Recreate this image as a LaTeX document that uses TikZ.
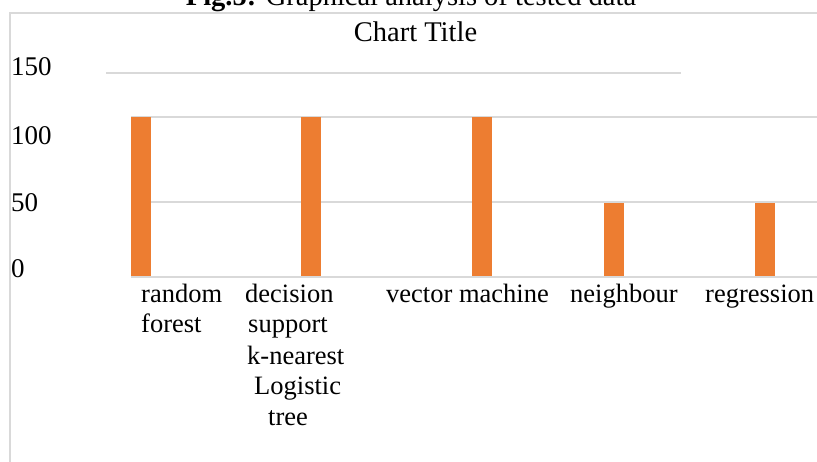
\documentclass[tikz,border=0pt]{standalone}
\usepackage{fontspec}
\setmainfont{Liberation Serif}
\definecolor{barorange}{HTML}{ED7D31}
\definecolor{gridgrey}{HTML}{D9D9D9}
\tikzset{
  gridline/.style = {draw=gridgrey, line width=2pt},% grid and frame
  chartbar/.style = {fill=barorange},
  ylab/.style = {anchor=base west, inner sep=0pt,
    font=\fontsize{27}{30}\selectfont},% value axis
  catlab/.style = {anchor=base west, inner sep=0pt,
    font=\fontsize{26.5}{30}\selectfont},% category axis
  titlelab/.style = {anchor=base, inner sep=0pt,
    font=\fontsize{28.5}{32}\selectfont}
}

\begin{document}
\begin{tikzpicture}[x=1pt,y=-1pt]
\clip (0,0) rectangle (817,462);
\fill[white] (0,0) rectangle (817,462);
% titles
\node [titlelab] (fig) at (411,6) {\textbf{Fig.5:} Graphical analysis of tested data};
\draw [gridline] (10,480) -- (10,13) -- (830,13);
\node [titlelab] (charttitle) at (415.5,42) {Chart Title};
% grid
\draw [gridline] (106,72.7) -- (681,72.7);
\draw [gridline] (131,116.7) -- (830,116.7);
\draw [gridline] (131,202) -- (830,202);
\draw [gridline] (131,277.5) -- (830,277.5);
% bars
\fill [chartbar] (131,116.7) rectangle (151,276.5);
\fill [chartbar] (301,116.7) rectangle (321,276.5);
\fill [chartbar] (472,116.7) rectangle (492,276.5);
\fill [chartbar] (604,203) rectangle (624,276.5);
\fill [chartbar] (755,203) rectangle (775,276.5);
% value labels
\node [ylab] (y150) at (11,76) {150};
\node [ylab] (y100) at (11,145) {100};
\node [ylab] (y50) at (11,212) {50};
\node [ylab] (y0) at (11,278) {0};
% category labels
\node [catlab] (rf1) at (141,303) {random};
\node [catlab] (rf2) at (141,333) {forest};
\node [catlab] (dt1) at (245,303) {decision};
\node [catlab] (sv1) at (248,333) {support};
\node [catlab] (kn1) at (247,365) {k-nearest};
\node [catlab] (lr1) at (254,395) {Logistic};
\node [catlab] (dt2) at (268,425) {tree};
\node [catlab] (sv2) at (386,303) {vector machine};
\node [catlab] (kn2) at (570,303) {neighbour};
\node [catlab] (lr2) at (705,303) {regression};
\end{tikzpicture}
\end{document}
